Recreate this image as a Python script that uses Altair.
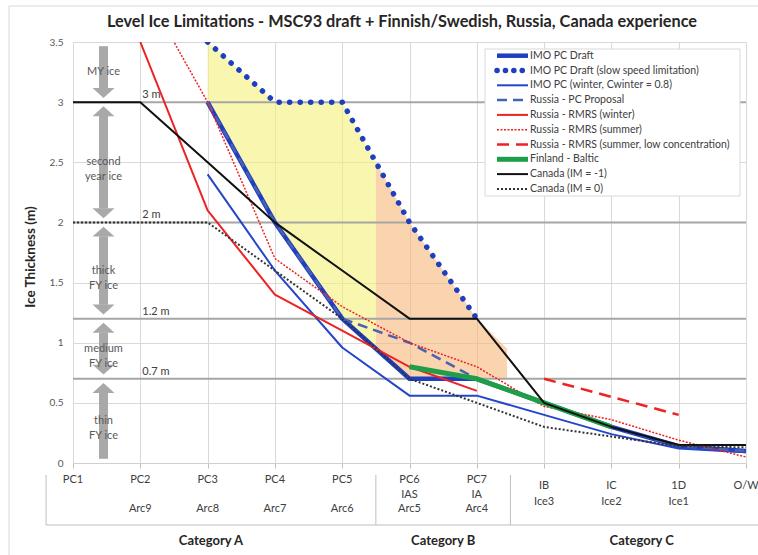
import altair as alt
import pandas as pd

FONT = "Lato"

# ---------------- data ----------------
categories = ["PC1", "PC2", "PC3", "PC4", "PC5", "PC6", "PC7", "IB", "IC", "1D", "O/W"]
label_row2 = ["", "", "", "", "", "IAS", "IA", "Ice3", "Ice2", "Ice1", ""]
label_row3 = ["", "Arc9", "Arc8", "Arc7", "Arc6", "Arc5", "Arc4", "", "", "", ""]

groups = ["Category A", "Category B", "Category C"]
group_start = [-0.4, 4.5, 6.5]
group_end = [4.5, 6.5, 10.4]

series_names = [
    "IMO PC Draft",
    "IMO PC Draft (slow speed limitation)",
    "IMO PC (winter, Cwinter = 0.8)",
    "Russia - PC Proposal",
    "Russia - RMRS (winter)",
    "Russia - RMRS (summer)",
    "Russia - RMRS (summer, low concentration)",
    "Finland - Baltic",
    "Canada (IM = -1)",
    "Canada (IM = 0)",
]
imo_draft = [None, None, 3.0, 2.0, 1.2, 0.7, 0.7, 0.5, 0.3, 0.14, 0.1]
imo_slow = [None, None, 3.5, 3.0, 3.0, 2.0, 1.2, None, None, None, None]
imo_winter = [None, None, 2.4, 1.6, 0.96, 0.56, 0.56, 0.4, 0.24, 0.12, 0.09]
russia_pc = [None, None, 3.0, 2.0, 1.2, 1.0, 0.7, 0.5, 0.3, 0.14, 0.1]
rmrs_winter = [None, 3.5, 2.1, 1.4, 1.1, 0.8, 0.6, None, None, None, None]
rmrs_summer = [None, 4.0, 3.0, 1.7, 1.3, 1.0, 0.8, 0.47, 0.36, 0.19, 0.05]
rmrs_low = [None, None, None, None, None, None, None, 0.7, 0.55, 0.4, None]
finland = [None, None, None, None, None, 0.8, 0.7, 0.5, 0.3, None, None]
canada_m1 = [3.0, 3.0, 2.5, 2.0, 1.6, 1.2, 1.2, 0.5, 0.3, 0.15, 0.15]
canada_0 = [2.0, 2.0, 2.0, 1.6, 1.2, 0.7, 0.5, 0.3, 0.22, 0.14, 0.13]
series_values = [imo_draft, imo_slow, imo_winter, russia_pc, rmrs_winter,
                 rmrs_summer, rmrs_low, finland, canada_m1, canada_0]

yellow_x = [2, 3, 4, 4.5]
yellow_top = [3.5, 3.0, 3.0, 2.5]
yellow_bottom = [3.0, 2.0, 1.2, 0.95]
orange_x = [4.5, 5, 6, 6.45]
orange_top = [2.5, 2.0, 1.2, 0.95]
orange_bottom = [0.95, 0.7, 0.7, 0.7]

thresholds = [3.0, 2.0, 1.2, 0.7]
threshold_labels = ["3 m", "2 m", "1.2 m", "0.7 m"]

ice_classes = ["MY ice", "second\nyear ice", "thick\nFY ice", "medium\nFY ice", "thin\nFY ice"]
ice_lo = [3.0, 2.0, 1.2, 0.7, 0.0]
ice_hi = [3.5, 3.0, 2.0, 1.2, 0.7]

# ---------------- styles ----------------
BLUE = "#1f3fbf"
RED = "#ee2222"
styles = [
    dict(color=BLUE, strokeWidth=4.5),
    dict(color=BLUE, strokeWidth=5.5, strokeDash=[0.1, 10.4], strokeCap="round"),
    dict(color="#2446c8", strokeWidth=2),
    dict(color="#4a60b0", strokeWidth=2.5, strokeDash=[10, 6]),
    dict(color=RED, strokeWidth=2),
    dict(color=RED, strokeWidth=1.5, strokeDash=[2, 1.5]),
    dict(color=RED, strokeWidth=2.5, strokeDash=[12, 7]),
    dict(color="#1f9e48", strokeWidth=5),
    dict(color="#111111", strokeWidth=2),
    dict(color="#333333", strokeWidth=2, strokeDash=[2, 2]),
]
legend_dash = {1: [0.1, 8.3]}

W, H = 673, 421
xs = alt.Scale(domain=[0, 10], nice=False, zero=False)
ys = alt.Scale(domain=[0, 3.5], nice=False, zero=True)
x_axis = alt.Axis(values=list(range(11)), labels=False, ticks=True, tickSize=5,
                  tickColor="#bfbfbf", domainColor="#d0d0d0", grid=True,
                  gridColor="#d9d9d9", title=None)
y_axis = alt.Axis(values=[0, 0.5, 1, 1.5, 2, 2.5, 3, 3.5], labelExpr="'' + datum.value",
                  ticks=False, domain=False, grid=True, gridColor="#d9d9d9",
                  labelColor="#595959", labelFontSize=10, labelPadding=10,
                  labelFont=FONT, title=None)


def X(f):
    return alt.X(f + ":Q", scale=xs, axis=x_axis)


def Y(f):
    return alt.Y(f + ":Q", scale=ys, axis=y_axis)


one = pd.DataFrame({"k": [0]})

# ---------------- tables ----------------
rows = []
for name, vals in zip(series_names, series_values):
    for i, v in enumerate(vals):
        if v is not None:
            rows.append({"series": name, "x": i, "value": v})
df_lines = pd.DataFrame(rows)

df_yellow = pd.DataFrame({"x": yellow_x, "top": yellow_top, "bottom": yellow_bottom})
df_orange = pd.DataFrame({"x": orange_x, "top": orange_top, "bottom": orange_bottom})
df_thr = pd.DataFrame({"y": thresholds, "label": threshold_labels, "x": [1] * len(thresholds)})

GAP = 0.035
HEAD = 0.08
shaft_lo = [lo + GAP + (HEAD if lo > 0 else 0) for lo in ice_lo]
shaft_hi = [hi - GAP - (HEAD if hi < 3.5 else 0) for hi in ice_hi]
df_ice = pd.DataFrame({"cls": ice_classes, "lo": ice_lo, "hi": ice_hi,
                       "s_lo": shaft_lo, "s_hi": shaft_hi,
                       "mid": [(a + b) / 2 for a, b in zip(ice_lo, ice_hi)]})
df_down = pd.DataFrame({"y": [lo + GAP for lo in ice_lo if lo > 0]})
df_up = pd.DataFrame({"y": [hi - GAP for hi in ice_hi if hi < 3.5]})

df_lab = pd.DataFrame({"x": list(range(len(categories))), "r1": categories,
                       "r2": label_row2, "r3": label_row3})
in_c = df_lab["x"] > group_start[2]
df_lab_ab = df_lab[~in_c]
df_lab_c = df_lab[in_c]
df_groups = pd.DataFrame({"group": groups, "start": group_start, "end": group_end,
                          "mid": [(a + b) / 2 for a, b in zip(group_start, group_end)]})

# ---------------- layers ----------------
layers = []

layers.append(alt.Chart(one).mark_rect(fill=None, stroke="#d9d9d9", strokeWidth=1).encode(
    x=alt.value(-64), x2=alt.value(W + 200), y=alt.value(-36), y2=alt.value(H + 200)))

layers.append(alt.Chart(df_yellow).mark_area(color="#f5f07a", opacity=0.6).encode(
    x=X("x"), y=Y("top"), y2="bottom:Q"))
layers.append(alt.Chart(df_orange).mark_area(color="#f7b77a", opacity=0.6).encode(
    x=X("x"), y=Y("top"), y2="bottom:Q"))

layers.append(alt.Chart(df_thr).mark_rule(color="#a6a6a6", strokeWidth=2).encode(y=Y("y")))

ARROW = "#a9a9a9"
AX = 30.5
layers.append(alt.Chart(df_ice).mark_rule(color=ARROW, strokeWidth=9).encode(
    x=alt.value(AX), y=Y("s_lo"), y2="s_hi:Q"))
layers.append(alt.Chart(df_down).mark_point(
    shape="M-1,-0.9L1,-0.9L0,0Z", filled=True, size=484, color=ARROW, opacity=1).encode(
    x=alt.value(AX), y=Y("y")))
layers.append(alt.Chart(df_up).mark_point(
    shape="M-1,0.9L1,0.9L0,0Z", filled=True, size=484, color=ARROW, opacity=1).encode(
    x=alt.value(AX), y=Y("y")))
layers.append(alt.Chart(df_ice).mark_text(
    font=FONT, fontSize=11, color="#595959", lineBreak="\n", lineHeight=15,
    align="center", baseline="middle").encode(
    x=alt.value(AX), y=Y("mid"), text="cls:N"))

layers.append(alt.Chart(df_thr).mark_text(
    font=FONT, fontSize=11, color="#404040", align="left", baseline="bottom", dx=2, dy=-2).encode(
    x=X("x"), y=Y("y"), text="label:N"))

for i, name in enumerate(series_names):
    layers.append(alt.Chart(df_lines).transform_filter(alt.datum.series == name).mark_line(
        clip=True, strokeJoin="round", **styles[i]).encode(x=X("x"), y=Y("value")))

# legend (drawn by hand inside the plot area)
LX0, LX1, LY0, LY1 = 412, 667, 7, 154
layers.append(alt.Chart(one).mark_rect(fill="white", stroke="#d9d9d9", strokeWidth=1).encode(
    x=alt.value(LX0), x2=alt.value(LX1), y=alt.value(LY0), y2=alt.value(LY1)))
for i, name in enumerate(series_names):
    st = dict(styles[i])
    if i in legend_dash:
        st["strokeDash"] = legend_dash[i]
    yy = 13.7 + i * 14.8
    d = pd.DataFrame({"series": [name]})
    layers.append(alt.Chart(d).mark_rule(**st).encode(
        x=alt.value(424), x2=alt.value(455), y=alt.value(yy)))
    layers.append(alt.Chart(d).mark_text(
        font=FONT, fontSize=10.5, color="#404040", align="left", baseline="middle").encode(
        x=alt.value(457), y=alt.value(yy), text="series:N"))

# category axis labels (three rows for categories A/B, two centred rows for C)
lab_style = dict(font=FONT, fontSize=11, color="#404040", align="center", baseline="middle")
for field, ypix in [("r1", H + 17), ("r2", H + 31.5), ("r3", H + 46)]:
    layers.append(alt.Chart(df_lab_ab).mark_text(**lab_style).encode(
        x=X("x"), y=alt.value(ypix), text=field + ":N"))
for field, ypix in [("r1", H + 22.5), ("r2", H + 39)]:
    layers.append(alt.Chart(df_lab_c).mark_text(**lab_style).encode(
        x=X("x"), y=alt.value(ypix), text=field + ":N"))

layers.append(alt.Chart(df_groups).mark_rule(color="#bfbfbf", strokeWidth=1).encode(
    x=X("start"), y=alt.value(H + 12), y2=alt.value(H + 62)))
layers.append(alt.Chart(df_groups).mark_rule(color="#bfbfbf", strokeWidth=1).encode(
    x=X("start"), x2="end:Q", y=alt.value(H + 62)))
layers.append(alt.Chart(df_groups).mark_text(
    font=FONT, fontSize=13, fontWeight="bold", color="#262626", align="center",
    baseline="middle").encode(x=X("mid"), y=alt.value(H + 78), text="group:N"))

# titles
layers.append(alt.Chart(one).mark_text(
    font=FONT, fontSize=16.3, fontWeight="bold", color="#262626", align="center",
    baseline="middle", text="Level Ice Limitations - MSC93 draft + Finnish/Swedish, Russia, Canada experience").encode(
    x=alt.value(329), y=alt.value(-20)))
layers.append(alt.Chart(one).mark_text(
    font=FONT, fontSize=13.5, fontWeight="bold", color="#262626", align="center",
    baseline="middle", angle=270, text="Ice Thickness (m)").encode(
    x=alt.value(-42), y=alt.value(215)))

chart = alt.layer(*layers).properties(
    width=W, height=H,
    padding={"left": 73, "top": 42, "right": 12, "bottom": 92},
    autosize=alt.AutoSizeParams(type="none"),
    background="white",
).configure_view(stroke=None).configure(font=FONT)

chart.save("out.html", embed_options={"renderer": "svg", "actions": False})
